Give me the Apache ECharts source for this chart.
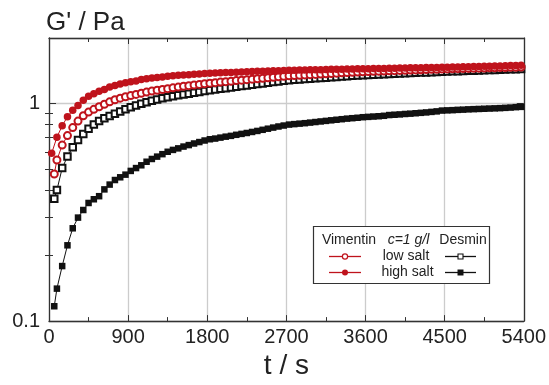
<!DOCTYPE html>
<html>
<head>
<meta charset="utf-8">
<script src="https://cdn.jsdelivr.net/npm/echarts@6/dist/echarts.min.js"></script>
<style>
html,body{margin:0;padding:0;background:#fff;}
#chart{width:549px;height:385px;}
</style>
</head>
<body>
<div id="chart"></div>
<script>
// time axis (s)
const timeHighVim = [30,90,150,210,270,330,390,450,510,570,630,690,750,810,870,930,990,1050,1110,1170,1230,1290,1350,1410,1470,1530,1590,1650,1710,1770,1830,1890,1950,2010,2070,2130,2190,2250,2310,2370,2430,2490,2550,2610,2670,2730,2790,2850,2910,2970,3030,3090,3150,3210,3270,3330,3390,3450,3510,3570,3630,3690,3750,3810,3870,3930,3990,4050,4110,4170,4230,4290,4350,4410,4470,4530,4590,4650,4710,4770,4830,4890,4950,5010,5070,5130,5190,5250,5310,5370];
const timeOther = [60,90,150,210,270,330,390,450,510,570,630,690,750,810,870,930,990,1050,1110,1170,1230,1290,1350,1410,1470,1530,1590,1650,1710,1770,1830,1890,1950,2010,2070,2130,2190,2250,2310,2370,2430,2490,2550,2610,2670,2730,2790,2850,2910,2970,3030,3090,3150,3210,3270,3330,3390,3450,3510,3570,3630,3690,3750,3810,3870,3930,3990,4050,4110,4170,4230,4290,4350,4410,4470,4530,4590,4650,4710,4770,4830,4890,4950,5010,5070,5130,5190,5250,5310,5370];

// G' / Pa values
const vimentinHighSalt = [
0.59,0.70,0.79,0.87,0.93,0.98,1.035,1.08,1.11,1.137,
1.16,1.19,1.21,1.23,1.245,1.26,1.27,1.29,1.30,1.31,
1.318,1.325,1.333,1.34,1.347,1.352,1.357,1.362,1.367,1.372,
1.376,1.38,1.383,1.387,1.39,1.393,1.396,1.399,1.402,1.405,
1.407,1.41,1.413,1.415,1.418,1.42,1.422,1.424,1.426,1.428,
1.43,1.431,1.433,1.435,1.436,1.438,1.44,1.441,1.443,1.445,
1.446,1.448,1.449,1.45,1.452,1.453,1.455,1.456,1.458,1.459,
1.461,1.462,1.464,1.465,1.467,1.469,1.47,1.472,1.474,1.476,
1.478,1.48,1.482,1.484,1.486,1.488,1.491,1.494,1.497,1.50];
const vimentinLowSalt = [
0.474,0.55,0.644,0.712,0.775,0.83,0.878,0.913,0.94,0.966,
0.992,1.018,1.04,1.058,1.074,1.087,1.101,1.115,1.128,1.14,
1.15,1.16,1.17,1.18,1.19,1.2,1.208,1.216,1.224,1.232,
1.24,1.247,1.254,1.26,1.267,1.274,1.28,1.287,1.294,1.3,
1.307,1.313,1.32,1.327,1.333,1.34,1.344,1.348,1.353,1.357,
1.361,1.366,1.37,1.374,1.379,1.383,1.387,1.391,1.395,1.4,
1.403,1.405,1.408,1.411,1.413,1.416,1.419,1.421,1.424,1.427,
1.429,1.432,1.435,1.437,1.44,1.442,1.444,1.446,1.448,1.45,
1.452,1.454,1.456,1.458,1.46,1.462,1.464,1.466,1.468,1.47];
const desminLowSalt = [
0.365,0.40,0.505,0.57,0.63,0.68,0.725,0.765,0.80,0.83,
0.855,0.877,0.898,0.92,0.94,0.96,0.98,0.998,1.014,1.03,
1.044,1.057,1.069,1.08,1.09,1.1,1.11,1.12,1.13,1.14,
1.15,1.159,1.168,1.176,1.185,1.194,1.202,1.211,1.22,1.228,
1.237,1.246,1.254,1.263,1.272,1.28,1.285,1.29,1.295,1.30,
1.305,1.31,1.315,1.32,1.325,1.33,1.335,1.34,1.345,1.35,
1.353,1.357,1.36,1.363,1.367,1.37,1.373,1.377,1.38,1.383,
1.387,1.39,1.393,1.397,1.40,1.403,1.405,1.408,1.411,1.413,
1.416,1.419,1.421,1.424,1.427,1.429,1.432,1.435,1.437,1.44];
const desminHighSalt = [
0.117,0.141,0.179,0.223,0.267,0.299,0.324,0.349,0.363,0.375,
0.403,0.424,0.445,0.458,0.471,0.49,0.505,0.52,0.54,0.556,
0.57,0.585,0.60,0.612,0.622,0.634,0.644,0.655,0.665,0.676,
0.685,0.69,0.697,0.704,0.71,0.718,0.725,0.732,0.74,0.748,
0.757,0.766,0.775,0.784,0.792,0.80,0.804,0.808,0.812,0.817,
0.822,0.827,0.832,0.837,0.842,0.847,0.852,0.856,0.86,0.865,
0.868,0.871,0.874,0.878,0.885,0.888,0.891,0.895,0.898,0.902,
0.906,0.91,0.915,0.92,0.928,0.93,0.932,0.935,0.937,0.94,
0.942,0.944,0.946,0.948,0.95,0.952,0.955,0.958,0.962,0.965];

// axis ticks
const xMin = 0, xMax = 5400, xStep = 900;
const yMin = 0.1, yMax = 2;
const yMajorTicks = [0.1, 1, 2];
const yLabels = [0.1, 1];
const yMinorTicks = [0.2,0.3,0.4,0.5,0.6,0.7,0.8,0.9];

const RED = '#bf131c';
const BLACK = '#111111';
const AX = '#333333';
const FONT = '"Liberation Sans", Arial, sans-serif';

function pairs(t, v){ return t.map((x,i)=>[x, v[i]]); }

const chart = echarts.init(document.getElementById('chart'), null, {renderer:'canvas'});

const axisLine = {show:true, onZero:false, lineStyle:{color:AX, width:1.3}};
function xAx(pos, main){
  return {
    type:'value', min:xMin, max:xMax, interval:xStep, position:pos,
    axisLine:axisLine,
    axisTick:{show:true, inside:true, length:6, lineStyle:{color:AX, width:1}},
    minorTick:{show:true, splitNumber:2, length:4, lineStyle:{color:AX, width:1}},
    splitLine:{show:main, lineStyle:{color:'#cccccc', width:1.3}},
    axisLabel:{show:main, fontSize:20, color:'#222', margin:6, fontFamily:FONT,
      formatter: v => String(Math.round(v))},
    name: main ? 't / s' : '',
    nameLocation:'middle', nameGap:21,
    nameTextStyle:{fontSize:28, color:'#222', fontFamily:FONT}
  };
}
function yAx(pos, major, main){
  return {
    type:'log', logBase:10, min:yMin, max:yMax, position:pos,
    axisLine: major ? axisLine : {show:false},
    axisTick:{show:true, inside:true, length: major ? 7 : 4,
      customValues: major ? yMajorTicks : yMinorTicks, lineStyle:{color:AX, width:1}},
    axisLabel: main ? {show:true, customValues:yLabels, fontSize:20, color:'#222', margin:9, fontFamily:FONT,
      formatter: v => String(+Number(v).toPrecision(3))} : {show:false},
    splitLine:{show:main, lineStyle:{color:'#cccccc', width:1.3}},
    minorTick:{show:false}, minorSplitLine:{show:false}
  };
}

const legendFont = {fontSize:14, fontFamily:FONT, fill:'#222', align:'center', verticalAlign:'middle'};
function txt(x, y, s, extra){ return {type:'text', x:x, y:y, z:100, style:Object.assign({text:s}, legendFont, extra||{})}; }
function ln(x1, x2, y, c){ return {type:'line', z:100, shape:{x1:x1, y1:y, x2:x2, y2:y}, style:{stroke:c, lineWidth:1.3}}; }

const option = {
  animation:false,
  backgroundColor:'#fff',
  textStyle:{fontFamily:FONT},
  title:{text:"G' / Pa", left:41, top:5, textStyle:{fontSize:26, fontWeight:'normal', color:'#222', fontFamily:FONT}},
  grid:{left:49, right:25, top:38, bottom:58},
  xAxis:[xAx('bottom', true), xAx('top', false)],
  yAxis:[yAx('left', true, true), yAx('left', false, false), yAx('right', true, false), yAx('right', false, false)],
  series:[
    {type:'line', name:'Desmin high salt', xAxisIndex:0, yAxisIndex:0, data:pairs(timeOther, desminHighSalt),
     symbol:'rect', symbolSize:6.5, itemStyle:{color:BLACK}, lineStyle:{color:BLACK, width:1}},
    {type:'line', name:'Desmin low salt', xAxisIndex:0, yAxisIndex:0, data:pairs(timeOther, desminLowSalt),
     symbol:'emptyRect', symbolSize:6.5, itemStyle:{color:BLACK, borderWidth:1.2}, lineStyle:{color:BLACK, width:1}},
    {type:'line', name:'Vimentin low salt', xAxisIndex:0, yAxisIndex:0, data:pairs(timeOther, vimentinLowSalt),
     symbol:'emptyCircle', symbolSize:7, itemStyle:{color:RED, borderWidth:1.3}, lineStyle:{color:RED, width:1}},
    {type:'line', name:'Vimentin high salt', xAxisIndex:0, yAxisIndex:0, data:pairs(timeHighVim, vimentinHighSalt),
     symbol:'circle', symbolSize:7.5, itemStyle:{color:RED}, lineStyle:{color:RED, width:1}}
  ],
  graphic:[
    {type:'rect', z:99, shape:{x:313.5, y:226.5, width:176, height:57}, style:{fill:'#fff', stroke:AX, lineWidth:1.2}},
    txt(349, 240, 'Vimentin'),
    txt(408.5, 240, 'c=1 g/l', {fontStyle:'italic'}),
    txt(463, 240, 'Desmin'),
    txt(406, 256.5, 'low salt'),
    txt(407.5, 272.5, 'high salt'),
    ln(329, 361, 256.5, RED),
    {type:'circle', z:101, shape:{cx:345, cy:256.5, r:2.6}, style:{fill:'#fff', stroke:RED, lineWidth:1.2}},
    ln(329, 361, 272.5, RED),
    {type:'circle', z:101, shape:{cx:345, cy:272.5, r:3}, style:{fill:RED}},
    ln(445, 476, 256.5, BLACK),
    {type:'rect', z:101, shape:{x:458, y:254, width:5, height:5}, style:{fill:'#fff', stroke:BLACK, lineWidth:1.1}},
    ln(445, 476, 272.5, BLACK),
    {type:'rect', z:101, shape:{x:457.5, y:269.5, width:6, height:6}, style:{fill:BLACK}}
  ]
};
chart.setOption(option);
</script>
</body>
</html>
